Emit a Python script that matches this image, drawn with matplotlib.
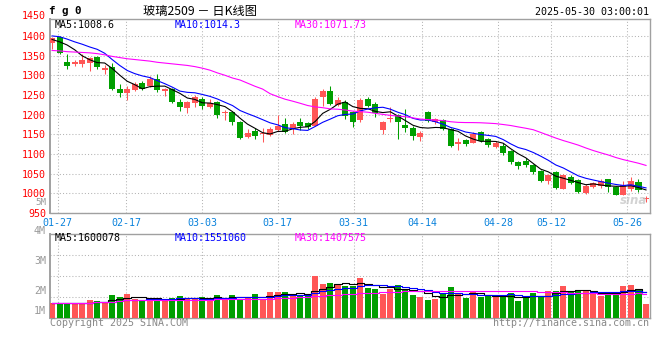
import numpy as np
import pandas as pd
import matplotlib
matplotlib.use("Agg")
import matplotlib.pyplot as plt

plt.rcParams['font.family'] = ['DejaVu Sans Mono', 'Noto Sans CJK SC']

# fg0 daily K line, 80 trading days 2025-01-24 .. 2025-05-29
opens = [1383, 1397, 1334, 1329, 1328, 1332, 1346, 1314, 1320, 1266,
         1255, 1263, 1280, 1273, 1291, 1259, 1266, 1233, 1216, 1229,
         1240, 1219, 1232, 1203, 1207, 1182, 1144, 1159, 1150, 1149,
         1162, 1176, 1166, 1182, 1178, 1172, 1244, 1261, 1224, 1231,
         1206, 1187, 1240, 1227, 1162, 1189, 1199, 1174, 1165, 1144,
         1207, 1182, 1186, 1163, 1125, 1135, 1129, 1156, 1138, 1117,
         1120, 1108, 1080, 1082, 1072, 1057, 1031, 1054, 1012, 1042,
         1034, 1002, 1016, 1019, 1036, 1016, 997, 1010, 1029, 985]
highs = [1398, 1400, 1353, 1340, 1354, 1347, 1349, 1325, 1330, 1277,
         1274, 1283, 1285, 1297, 1302, 1268, 1268, 1240, 1234, 1249,
         1246, 1240, 1234, 1213, 1210, 1185, 1163, 1165, 1165, 1169,
         1199, 1191, 1182, 1191, 1180, 1244, 1265, 1272, 1244, 1236,
         1210, 1242, 1244, 1231, 1185, 1219, 1201, 1214, 1170, 1159,
         1209, 1191, 1188, 1167, 1140, 1138, 1156, 1158, 1140, 1134,
         1127, 1110, 1082, 1091, 1074, 1059, 1050, 1057, 1048, 1046,
         1037, 1023, 1029, 1036, 1037, 1019, 1031, 1042, 1036, 994]
lows = [1368, 1355, 1315, 1324, 1321, 1311, 1315, 1303, 1262, 1246,
        1236, 1260, 1262, 1270, 1257, 1247, 1230, 1209, 1203, 1219,
        1215, 1217, 1191, 1187, 1174, 1138, 1140, 1138, 1131, 1145,
        1159, 1153, 1152, 1162, 1163, 1170, 1223, 1224, 1221, 1190,
        1168, 1182, 1219, 1193, 1151, 1182, 1138, 1156, 1135, 1133,
        1182, 1176, 1160, 1118, 1110, 1119, 1127, 1130, 1117, 1115,
        1097, 1075, 1063, 1068, 1048, 1029, 1023, 1012, 1010, 1023,
        1000, 999, 1014, 1014, 1003, 995, 995, 1006, 1003, 978]
closes = [1394, 1357, 1324, 1333, 1340, 1344, 1320, 1319, 1264, 1255,
          1266, 1277, 1266, 1291, 1262, 1266, 1232, 1219, 1232, 1244,
          1223, 1229, 1199, 1207, 1180, 1140, 1153, 1146, 1152, 1163,
          1172, 1156, 1176, 1172, 1169, 1240, 1259, 1227, 1238, 1197,
          1181, 1236, 1223, 1204, 1182, 1191, 1181, 1166, 1145, 1153,
          1184, 1189, 1163, 1121, 1131, 1125, 1150, 1133, 1123, 1128,
          1103, 1080, 1069, 1072, 1055, 1031, 1046, 1014, 1046, 1027,
          1003, 1019, 1025, 1031, 1017, 997, 1020, 1031, 1008, 987]
volumes_m = [0.89, 0.93, 0.93, 0.85, 0.89, 1.10, 1.04, 0.93, 1.40, 1.28,
             1.46, 1.18, 1.04, 1.04, 1.20, 1.04, 1.20, 1.34, 1.20, 1.20,
             1.28, 1.18, 1.38, 1.14, 1.38, 1.18, 1.20, 1.46, 1.18, 1.59,
             1.59, 1.59, 1.38, 1.38, 1.40, 2.52, 2.07, 2.15, 2.07, 1.95,
             1.95, 2.44, 1.85, 1.77, 1.46, 1.79, 2.01, 1.77, 1.40, 1.26,
             1.10, 1.16, 1.46, 1.89, 1.46, 1.22, 1.59, 1.30, 1.34, 1.26,
             1.30, 1.54, 1.04, 1.34, 1.54, 1.26, 1.65, 1.65, 1.95, 1.59,
             1.65, 1.65, 1.46, 1.34, 1.59, 1.46, 1.95, 2.01, 1.71, 0.85]

# moving averages at the left edge depend on days before the chart
ma5_head = [1391, 1385, 1377, 1365]
ma10_head = [1400, 1398, 1392, 1385, 1379, 1372, 1366, 1356, 1340]
ma30_head = [1363, 1362, 1360, 1359, 1358, 1357, 1355, 1352, 1348, 1345,
             1342, 1340, 1338, 1336, 1333, 1331, 1329, 1327, 1325, 1322,
             1318, 1313, 1306, 1300, 1293, 1288, 1280, 1272, 1265]

tick_idx = [1, 10, 20, 30, 40, 49, 59, 66, 76]
tick_labels = ['01-27', '02-17', '03-03', '03-17', '03-31', '04-14', '04-28', '05-12', '05-26']
price_ticks = [950, 1000, 1050, 1100, 1150, 1200, 1250, 1300, 1350, 1400]

RED = '#ff5656'
GREEN = '#009f00'
GRID = '#b4b4b4'
FRAME = '#a0a0a0'


def moving(values, n, head):
    m = pd.Series(values, dtype=float).rolling(n).mean().to_numpy()
    m[:len(head)] = head
    return m


o = np.array(opens, float)
c = np.array(closes, float)
x = np.arange(len(c))
up = c >= o
cols = np.where(up, RED, GREEN)
vol = np.array(volumes_m) * 1e6

W, H = 660, 360
fig = plt.figure(figsize=(W / 100, H / 100), dpi=100)


def box(l, t, r, b):
    return [l / W, 1 - b / H, (r - l) / W, (b - t) / H]


def px(xp, yp):
    return xp / W, 1 - yp / H


ax = fig.add_axes(box(50, 19, 650, 213))
axv = fig.add_axes(box(50, 234, 650, 318))

x0, x1 = -0.27, len(c) - 1 + 0.53
# sina puts the date grid on an even split of the width, not exactly on the candles
grid_x = x0 + np.array(tick_idx) * (x1 - x0) / (len(c) - 1)

# candles
ax.vlines(x, lows, highs, colors=cols, lw=0.75, zorder=3)
body = np.maximum(np.abs(c - o), 2.5)
ax.bar(x, body, bottom=np.minimum(o, c), width=0.8, color=cols, lw=0, zorder=3)

ax.plot(x, moving(closes, 5, ma5_head), color='black', lw=0.8, zorder=4)
ax.plot(x, moving(closes, 10, ma10_head), color='#0000ff', lw=0.8, zorder=4)
ax.plot(x, moving(closes, 30, ma30_head), color='#ff00ff', lw=0.8, zorder=4)

ax.set_xlim(x0, x1)
ax.set_ylim(950, 1443)
ax.set_yticks(price_ticks)
ax.set_xticks(grid_x, tick_labels)
ax.tick_params(axis='y', length=0, pad=2.9, labelsize=7.2, labelcolor='#ff0000')
ax.tick_params(axis='x', length=0, pad=3.4, labelsize=7.2, labelcolor='#0a82dc')

# volume
axv.bar(x, vol, width=0.8, color=cols, lw=0, zorder=3)
vs = pd.Series(vol)
axv.plot(x, vs.rolling(5, min_periods=1).mean(), color='black', lw=0.8, drawstyle='steps-mid', zorder=4)
axv.plot(x, vs.rolling(10, min_periods=1).mean(), color='#0000ff', lw=0.8, drawstyle='steps-mid', zorder=4)
axv.plot(x, vs.rolling(30, min_periods=1).mean(), color='#ff00ff', lw=0.8, drawstyle='steps-mid', zorder=4)
vmax = 5.1e6
axv.set_xlim(x0, x1)
axv.set_ylim(0, vmax)
axv.set_xticks(grid_x, [])
axv.set_yticks([vmax * 0.25, vmax * 0.5, vmax * 0.75], [])
axv.tick_params(length=0)

for a in (ax, axv):
    a.set_axisbelow(True)
    a.grid(True, color=GRID, linestyle=(0, (1, 2)), lw=0.75)
    for s in a.spines.values():
        s.set_color(FRAME)
        s.set_linewidth(1.0)
    a.spines['left'].set_linewidth(1.4)

mono = dict(fontsize=7.2, family='DejaVu Sans Mono')
fig.text(*px(46, 16), '1450', color='#ff0000', ha='right', va='center', **mono)
fig.text(*px(46, 202.5), '5M', color='#999999', ha='right', va='center', fontsize=6.6,
         family='DejaVu Sans Mono')
for lab, yy in [('4M', 230.7), ('3M', 260.7), ('2M', 290.7), ('1M', 310.7)]:
    fig.text(*px(46, yy), lab, color='#999999', ha='right', va='center', **mono)

# header
fig.text(*px(49, 11), 'f g 0', fontsize=7.8, fontweight='bold', ha='left', va='center',
         family='DejaVu Sans Mono', color='black')
fig.text(*px(200, 11), '玻璃2509 － 日K线图', fontsize=8.8, ha='center', va='center',
         family=['Noto Sans CJK SC', 'DejaVu Sans'], color='black')
fig.text(*px(649, 12), '2025-05-30 03:00:01', ha='right', va='center', color='black', **mono)

# legends
for txt, xx, col in [('MA5:1008.6', 55, 'black'), ('MA10:1014.3', 175, '#0000ff'),
                     ('MA30:1071.73', 295, '#ff00ff')]:
    fig.text(*px(xx, 24.5), txt, color=col, ha='left', va='center', **mono)
for txt, xx, col in [('MA5:1600078', 55, 'black'), ('MA10:1551060', 175, '#0000ff'),
                     ('MA30:1407575', 295, '#ff00ff')]:
    fig.text(*px(xx, 238.3), txt, color=col, ha='left', va='center', **mono)

# footer
fig.text(*px(50, 323.5), 'Copyright 2025 SINA.COM', color='#888888', ha='left', va='center', **mono)
fig.text(*px(649, 323.5), 'http://finance.sina.com.cn', color='#888888', ha='right', va='center', **mono)

# watermark
fig.text(*px(634, 201), 'sina', fontsize=8.5, fontstyle='italic', fontweight='bold',
         color='#c8c8c8', alpha=0.8, ha='center', va='center', family='DejaVu Sans', zorder=10)

fig.savefig('out.png', dpi=100)
